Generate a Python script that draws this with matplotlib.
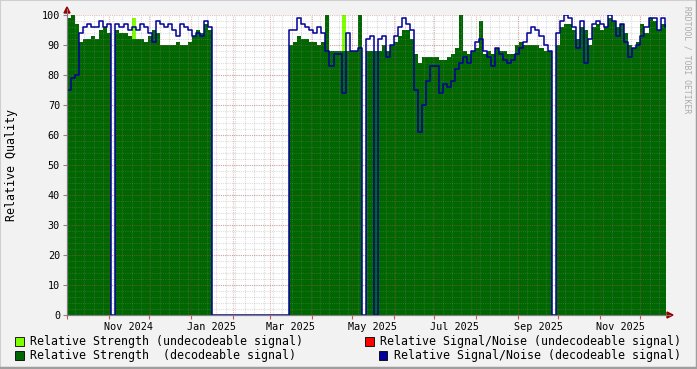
import matplotlib.pyplot as plt
import matplotlib.dates as mdates
from matplotlib.patches import Rectangle, Polygon
import numpy as np
import pandas as pd

# time axis: one sample every 3 days
start = pd.Timestamp('2024-10-01')
end = pd.Timestamp('2025-12-20')
step_days = 3

# relative strength, decodeable signal (0 = no data)
strength = [99, 100, 97, 91, 92, 92, 93, 92, 95, 96, 94,
            0,
            95, 94, 94, 93, 92, 92, 92, 91, 93, 95, 94, 90, 90, 90, 90, 91, 90, 90, 91, 93, 95, 94, 97, 95,
            0, 0, 0, 0, 0, 0, 0, 0, 0, 0, 0, 0, 0, 0, 0, 0, 0, 0, 0,
            90, 91, 93, 92, 92, 91, 91, 90, 91, 100, 88, 88, 88, 88, 88, 88, 88, 100,
            0,
            88, 88, 88, 88, 90,
            88, 90, 91, 93, 95, 95, 92, 87, 84, 86, 86, 86, 86, 85, 85, 86, 87, 89, 100, 88, 87, 88, 89, 98,
            87, 88, 87, 89, 88, 88, 87, 87, 90, 91, 90, 90, 90, 90, 89, 88, 88,
            0,
            90, 96, 97, 97, 95,
            92, 96, 95, 90, 96, 97, 95, 96, 99, 98, 96, 97, 94, 90, 89, 91, 97, 94, 99, 98, 95, 97, 97]

# relative signal/noise, decodeable signal
snr = [75, 79, 80, 94, 96, 97, 96, 96, 98, 96, 97,
       0,
       97, 96, 97, 95, 96, 95, 97, 96, 94, 91, 98, 97, 96, 97, 95, 93, 97, 96, 95, 93, 94, 93, 98, 96,
       0, 0, 0, 0, 0, 0, 0, 0, 0, 0, 0, 0, 0, 0, 0, 0, 0, 0, 0,
       95, 95, 99, 97, 96, 95, 94, 96, 94, 88, 83, 87, 87, 74, 94, 88, 88, 89,
       0,
       92, 93, 0, 92, 93,
       86, 90, 93, 96, 99, 97, 95, 75, 61, 70, 78, 83, 83, 74, 77, 76, 78, 82, 84, 86, 84, 88, 91, 92,
       88, 86, 83, 89, 87, 85, 84, 85, 87, 89, 91, 94, 96, 95, 93, 90, 88,
       0,
       94, 98, 100, 99, 96,
       89, 98, 84, 92, 97, 98, 97, 96, 100, 98, 93, 97, 91, 86, 89, 90, 93, 96, 99, 99, 95, 99, 96]

# relative strength, undecodeable signal (only short spikes)
undec_dates = ['2024-11-18', '2025-04-23']
undec_vals = [99, 100]

label_months = ['2024-11', '2025-01', '2025-03', '2025-05', '2025-07', '2025-09', '2025-11']

legend_items = [
    ('Relative Strength (undecodeable signal)', '#80FF00'),
    ('Relative Strength  (decodeable signal)', '#006600'),
    ('Relative Signal/Noise (undecodeable signal)', '#FF0000'),
    ('Relative Signal/Noise (decodeable signal)', '#000099'),
]

W, H = 697, 369
mono = 'DejaVu Sans Mono'
plt.rcParams['font.family'] = mono

dates = pd.date_range(start, periods=len(strength), freq=f'{step_days}D')
x_edges = list(dates) + [end]
g_ext = strength + [strength[-1]]
b_ext = snr + [snr[-1]]
undec = pd.Series(0.0, index=dates)
for d, v in zip(undec_dates, undec_vals):
    undec[pd.Timestamp(d)] = v
u_ext = list(undec.values) + [undec.values[-1]]

fig = plt.figure(figsize=(W / 100, H / 100), dpi=100, facecolor='#F2F2F2')
ax = fig.add_axes([67 / W, 1 - 315 / H, 599 / W, 300 / H])
ax.set_facecolor('white')

ax.fill_between(x_edges, u_ext, step='post', color='#80FF00', lw=0, zorder=2)
ax.fill_between(x_edges, g_ext, step='post', color='#006600', lw=0, zorder=2)

# grid drawn over the areas, like rrdtool
mondays = pd.date_range(start, end, freq='W-MON')
month_starts = pd.date_range(start, end, freq='MS')
dot = (0, (1, 1))
ax.vlines(mondays, 0, 100, colors='#8C8C8C', alpha=0.3, lw=0.8, linestyles=dot, zorder=3)
ax.hlines(np.arange(2, 100, 2), start, end, colors='#8C8C8C', alpha=0.3, lw=0.8, linestyles=dot, zorder=3)
ax.vlines(month_starts, 0, 100, colors='#B03030', alpha=0.32, lw=0.8, linestyles=dot, zorder=3)
ax.hlines(np.arange(10, 101, 10), start, end, colors='#B03030', alpha=0.32, lw=0.8, linestyles=dot, zorder=3)

ax.step(x_edges, b_ext, where='post', color='#000099', lw=1.1, zorder=4)

ax.set_xlim(start, end)
ax.set_ylim(0, 100)

ax.set_xticks(month_starts)
ax.set_xticklabels([])
label_pos = [pd.Timestamp(m + '-01') + pd.Timedelta(days=15) for m in label_months]
ax.set_xticks(label_pos, minor=True)
ax.set_xticklabels([pd.Timestamp(m + '-01').strftime('%b %Y') for m in label_months], minor=True)
ax.tick_params(axis='x', which='major', length=3, color='#CC5555', width=0.8)
ax.tick_params(axis='x', which='minor', length=0, pad=5, labelsize=7.3)

ax.set_yticks(np.arange(0, 101, 10))
ax.tick_params(axis='y', length=3, color='#888888', width=0.8, pad=2, labelsize=7.3)

for s in ['top', 'right']:
    ax.spines[s].set_visible(False)
for s in ['left', 'bottom']:
    ax.spines[s].set_color('#7F7F7F')
    ax.spines[s].set_linewidth(0.8)
    ax.spines[s].set_zorder(5)

# axis arrows
tf = fig.transFigure
fig.add_artist(plt.Line2D([67 / W, 67 / W], [1 - 315 / H, 1 - 9 / H], color='#7F7F7F', lw=0.8, transform=tf))
fig.add_artist(plt.Line2D([67 / W, 670 / W], [1 - 315 / H, 1 - 315 / H], color='#7F7F7F', lw=0.8, transform=tf))
fig.add_artist(Polygon([[64 / W, 1 - 13 / H], [70 / W, 1 - 13 / H], [67 / W, 1 - 7 / H]],
                       closed=True, color='#990000', transform=tf))
fig.add_artist(Polygon([[667 / W, 1 - 312 / H], [667 / W, 1 - 318 / H], [673 / W, 1 - 315 / H]],
                       closed=True, color='#990000', transform=tf))

fig.text(12 / W, 1 - 165 / H, 'Relative Quality', rotation=90, ha='center', va='center', fontsize=8.4)
fig.text(687 / W, 1 - 60 / H, 'RRDTOOL / TOBI OETIKER', rotation=270, ha='center', va='center',
         fontsize=5.8, color='#AAAAAA')

# legend
legend_xy = [(15, 341), (15, 355), (365, 341), (379, 355)]
for (label, col), (lx, ly) in zip(legend_items, legend_xy):
    fig.add_artist(Rectangle((lx / W, 1 - (ly + 4.5) / H), 8.5 / W, 8.5 / H, facecolor=col,
                             edgecolor='black', lw=0.6, transform=tf))
    fig.text((lx + 15) / W, 1 - ly / H, label, ha='left', va='center', fontsize=8.4)

# frame shading
fig.add_artist(plt.Line2D([0, 0, 1], [0, 1, 1], color='#CFCFCF', lw=1.5, transform=tf))
fig.add_artist(plt.Line2D([0, 1, 1], [0.002, 0.002, 1], color='#9E9E9E', lw=2.5, transform=tf))

fig.savefig('out.png', dpi=100, facecolor=fig.get_facecolor())
